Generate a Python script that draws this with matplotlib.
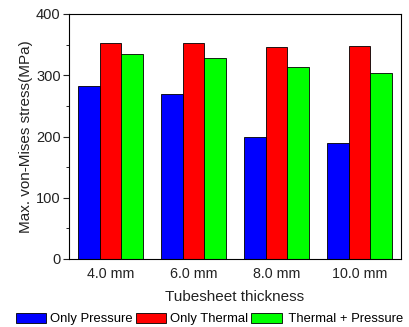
import matplotlib
matplotlib.use("Agg")
import matplotlib.pyplot as plt
import numpy as np
from matplotlib.ticker import MultipleLocator

plt.rcParams['font.family'] = ['Liberation Sans', 'DejaVu Sans']

categories = ["4.0 mm", "6.0 mm", "8.0 mm", "10.0 mm"]
only_pressure = [283, 270, 200, 189]
only_thermal = [352, 352, 346, 347]
thermal_pressure = [335, 328, 314, 304]
series_names = ["Only Pressure", "Only Thermal", "Thermal + Pressure"]
colors = ["#0000FF", "#FF0000", "#00FF00"]

fig = plt.figure(figsize=(4.10, 3.27), dpi=100)
ax = fig.add_axes([69/410, 1-259/327, 332/410, 245/327])

x = np.arange(len(categories))
w = 0.265
handles = []
for i, (vals, name, c) in enumerate(zip([only_pressure, only_thermal, thermal_pressure], series_names, colors)):
    b = ax.bar(x + (i-1)*w, vals, w, color=c, edgecolor="black", linewidth=0.6, label=name)
    handles.append(b)

ax.set_xlim(-0.5, 3.5)
ax.set_ylim(0, 400)
ax.set_xticks(x)
ax.set_xticklabels(categories, fontsize=10.3, color="#222222")
ax.tick_params(axis='x', length=0, pad=6)
ax.yaxis.set_major_locator(MultipleLocator(100))
ax.yaxis.set_minor_locator(MultipleLocator(50))
ax.tick_params(axis='y', which='major', length=4, direction='out', labelsize=10.5, colors="#222222", pad=2)
ax.tick_params(axis='y', which='minor', length=2.5, direction='out')
for s in ax.spines.values():
    s.set_linewidth(0.8)
ax.set_ylabel("Max. von-Mises stress(MPa)", fontsize=11, color="#222222", labelpad=2)
ax.set_xlabel("Tubesheet thickness", fontsize=11, color="#222222", labelpad=6)

legend_labels = [series_names[0], series_names[1], " " + series_names[2]]
fig.legend(handles=handles, labels=legend_labels, loc='center', bbox_to_anchor=(0.5 + 5/410, 1-319/327),
           ncol=3, frameon=False, fontsize=9.4, handlelength=2.3, handleheight=0.9,
           handletextpad=0.3, columnspacing=0.25, borderpad=0, borderaxespad=0)

fig.savefig("out.png", dpi=100)
